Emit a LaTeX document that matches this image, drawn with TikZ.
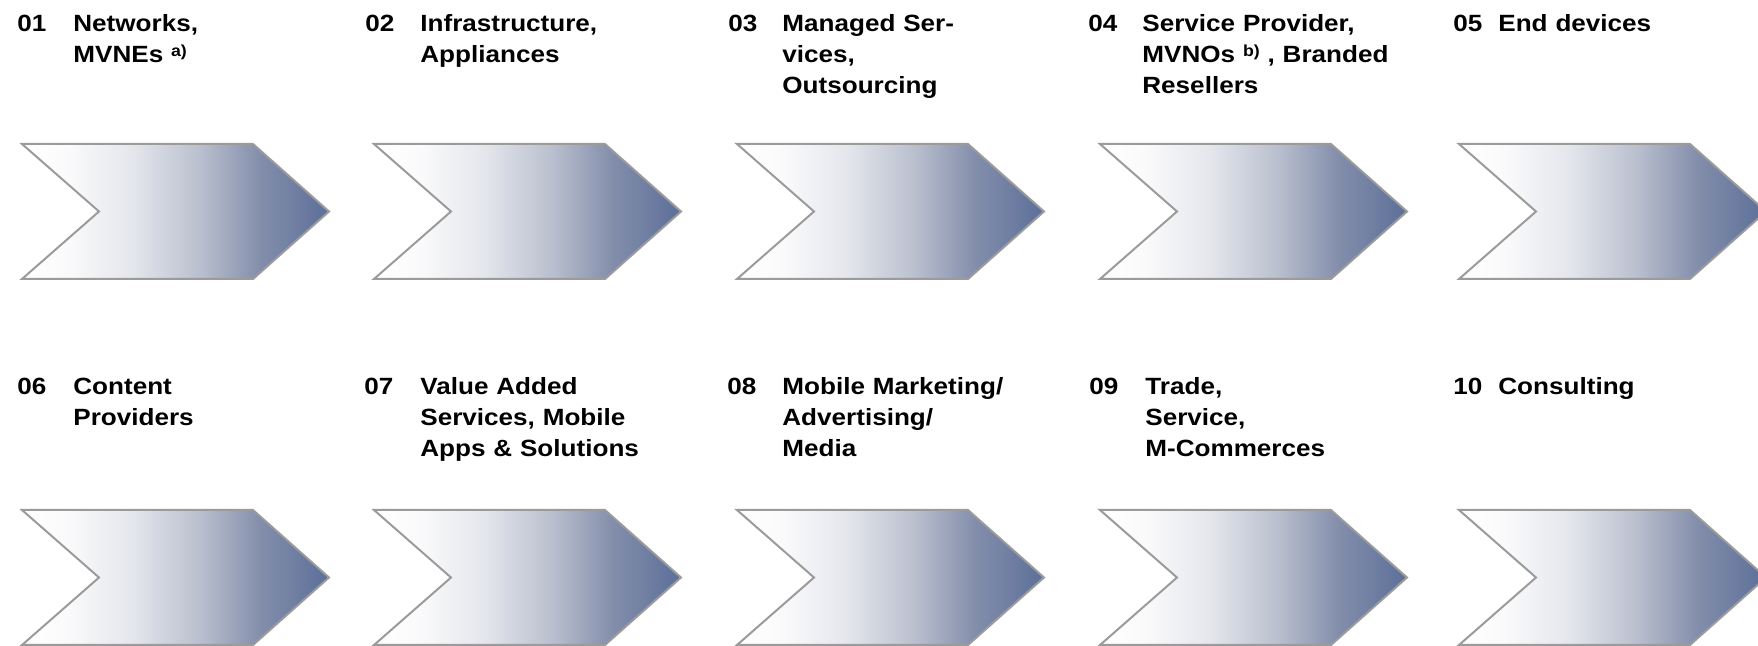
\documentclass[tikz,border=0pt]{standalone}
\usepackage{fontspec}
\setmainfont{Liberation Sans}[FakeStretch=1.11]
\definecolor{slate}{RGB}{92,111,153}
\definecolor{edgegrey}{RGB}{155,155,155}
\definecolor{gA}{RGB}{250,250,251}
\definecolor{gB}{RGB}{228,230,236}
\definecolor{gC}{RGB}{185,191,206}
\definecolor{gD}{RGB}{130,141,170}
\pgfdeclarehorizontalshading{chevshade}{100bp}{color(0bp)=(white); color(25bp)=(white); color(32.5bp)=(gA); color(43bp)=(gB); color(54bp)=(gC); color(64bp)=(gD); color(75bp)=(slate); color(100bp)=(slate)}
\newcommand\supmark[1]{\raisebox{3pt}{\fontsize{8}{8}\selectfont #1}}
\tikzset{
  chev/.style={draw=edgegrey, line width=1pt, line join=miter, shading=chevshade},
  numlbl/.style={anchor=base west, inner sep=0pt, font=\fontsize{11.75}{15.5}\selectfont\bfseries},
  txtlbl/.style={numlbl, text width=200pt, align=left}
}
\newcommand\chevron[2]{\path[chev] (#1,#2) -- ++(231,0) -- ++(76,67.5) -- ++(-76,67.5) -- ++(-231,0) -- ++(77,-67.5) -- cycle;}
\begin{document}
\begin{tikzpicture}[x=0.5pt,y=-0.5pt]
\useasboundingbox (0,0) rectangle (1758,646);
% chevrons
\foreach \cx in {22,374,737,1100,1459}{
  \chevron{\cx}{144}
  \chevron{\cx}{510}
}
% row 1
\node[numlbl] (n01) at (17,32) {01};
\node[txtlbl] (t01) at (73,32) {Networks,\\MVNEs \supmark{a)}};
\node[numlbl] (n02) at (365,32) {02};
\node[txtlbl] (t02) at (420,32) {Infrastructure,\\Appliances};
\node[numlbl] (n03) at (728,32) {03};
\node[txtlbl] (t03) at (782,32) {Managed Ser-\\vices,\\Outsourcing};
\node[numlbl] (n04) at (1088,32) {04};
\node[txtlbl] (t04) at (1142,32) {Service Provider,\\MVNOs \supmark{b)} , Branded\\Resellers};
\node[numlbl] (n05) at (1453,32) {05};
\node[txtlbl] (t05) at (1498,32) {End devices};
% row 2
\node[numlbl] (n06) at (17,395) {06};
\node[txtlbl] (t06) at (73,395) {Content\\Providers};
\node[numlbl] (n07) at (364,395) {07};
\node[txtlbl] (t07) at (420,395) {Value Added\\Services, Mobile\\Apps \& Solutions};
\node[numlbl] (n08) at (727,395) {08};
\node[txtlbl] (t08) at (782,395) {Mobile Marketing/\\Advertising/\\Media};
\node[numlbl] (n09) at (1089,395) {09};
\node[txtlbl] (t09) at (1145,395) {Trade,\\Service,\\M-Commerces};
\node[numlbl] (n10) at (1453,395) {10};
\node[txtlbl] (t10) at (1498,395) {Consulting};
\end{tikzpicture}
\end{document}
